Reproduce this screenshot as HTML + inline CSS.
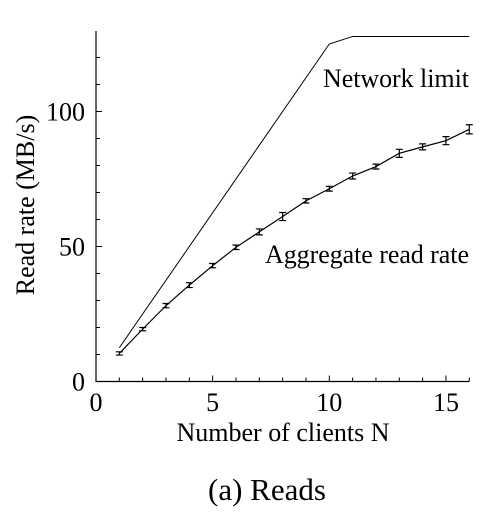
<!DOCTYPE html>
<html><head><meta charset="utf-8"><style>
html,body{margin:0;padding:0;background:#fff;}
svg{display:block;font-family:"Liberation Serif",serif;}
</style></head><body>
<svg id="chart" width="501" height="514" viewBox="0 0 501 514"></svg>
<script>
const clients=[1,2,3,4,5,6,7,8,9,10,11,12,13,14,15,16];
const readRate=[10.4,19.4,28.1,35.7,42.9,49.7,55.4,61.1,66.9,71.4,76.1,79.6,84.5,86.9,89.2,93.4];
const readErr=[0.6,0.6,0.8,0.9,0.8,0.8,1.1,1.5,0.8,0.9,1.1,0.9,1.5,1.1,1.5,1.7];
const limitN=[1,10,11,16];
const limitRate=[12.5,125,127.8,127.8];
const xTicks=[0,5,10,15];
const yTicks=[0,50,100];

const NS='http://www.w3.org/2000/svg';
const svg=document.getElementById('chart');
const X0=96,XS=23.33,Y0=381.5,YS=2.7;
const xs=v=>X0+v*XS, ys=v=>Y0-v*YS;
function mk(tag,attrs,parent){const e=document.createElementNS(NS,tag);for(const k in attrs)e.setAttribute(k,attrs[k]);(parent||svg).appendChild(e);return e;}

const ax=mk('path',{d:`M${X0},31 V${Y0} H${xs(16)}`,fill:'none',stroke:'#000','stroke-width':1.2});


for(let v=0;v<=16;v++){const t=mk('line',{x1:xs(v),x2:xs(v),y1:Y0,y2:Y0-(v%5==0?6:4),stroke:'#000','stroke-width':1});

}
for(let v=0;v<=120;v+=10){const t=mk('line',{x1:X0,x2:X0+(v%50==0?6:4),y1:ys(v),y2:ys(v),stroke:'#000','stroke-width':1});

}
xTicks.forEach(v=>{const t=mk('text',{x:xs(v),y:411,'text-anchor':'middle','font-size':26});t.textContent=v;

});
yTicks.forEach(v=>{const t=mk('text',{x:85,y:ys(v)+9,'text-anchor':'end','font-size':26});t.textContent=v;

});

const nl=mk('polyline',{points:limitN.map((n,i)=>xs(n)+','+ys(limitRate[i])).join(' '),fill:'none',stroke:'#000','stroke-width':1});


const ag=mk('polyline',{points:clients.map((n,i)=>xs(n)+','+ys(readRate[i])).join(' '),fill:'none',stroke:'#000','stroke-width':1.2});


clients.forEach((n,i)=>{const x=xs(n),y1=ys(readRate[i]-readErr[i]),y2=ys(readRate[i]+readErr[i]);
const g=mk('path',{d:`M${x-3.5},${y1} H${x+3.5} M${x},${y1} V${y2} M${x-3.5},${y2} H${x+3.5}`,stroke:'#000','stroke-width':1.2,fill:'none'});

});

function txt(s,a,name){const t=mk('text',a);t.textContent=s;return t;}
txt('Network limit',{x:469,y:87,'text-anchor':'end','font-size':26,textLength:146},'network-limit-label');
txt('Aggregate read rate',{x:469,y:263,'text-anchor':'end','font-size':26,textLength:204},'aggregate-read-label');
txt('Number of clients N',{x:283,y:441,'text-anchor':'middle','font-size':26,textLength:213},'x-axis-title');
txt('Read rate (MB/s)',{x:0,y:0,'text-anchor':'middle','font-size':26,transform:'translate(34,205) rotate(-90)'},'y-axis-title');
txt('(a) Reads',{x:267,y:500,'text-anchor':'middle','font-size':31},'caption');
</script>
</body></html>
